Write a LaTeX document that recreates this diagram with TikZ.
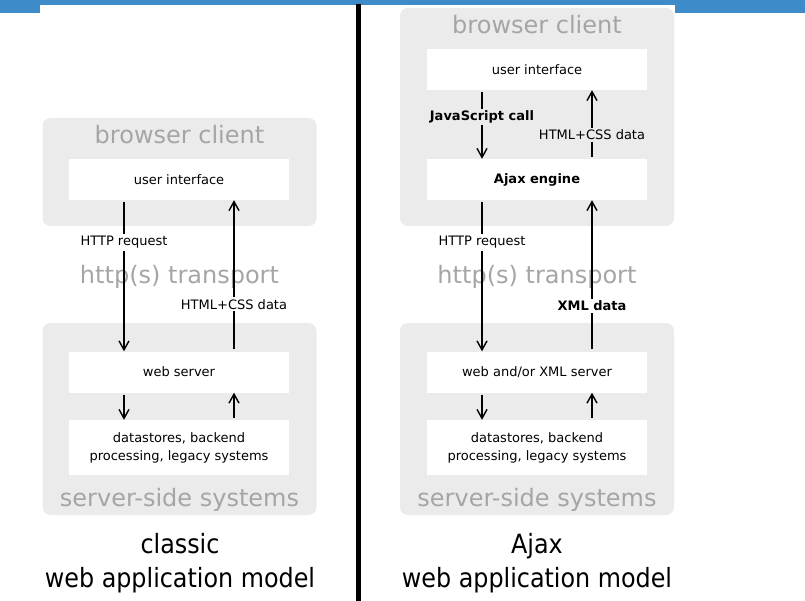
\documentclass[tikz,border=0pt]{standalone}
\usepackage{fontspec}
\setmainfont{DejaVu Sans}
\newfontfamily\capfont{DejaVu Sans Condensed}
\usetikzlibrary{arrows.meta}
\definecolor{barblue}{RGB}{61,139,201}
\definecolor{panelgray}{RGB}{235,235,235}
\definecolor{titlegray}{RGB}{165,165,165}
\tikzset{
  panel/.style={fill=panelgray,rounded corners=8pt,minimum width=274pt,inner sep=0pt},
  whitebox/.style={fill=white,minimum width=220pt,minimum height=41pt,inner sep=0pt,
    align=center,font=\fontsize{13}{18}\selectfont},
  paneltitle/.style={text=titlegray,inner sep=0pt,font=\fontsize{24}{28}\selectfont},
  flowlabel/.style={fill=white,inner sep=2pt,font=\fontsize{13}{15}\selectfont},
  boldlabel/.style={flowlabel,font=\fontsize{13}{15}\selectfont\bfseries},
  flow/.style={line width=1.4pt,shorten <=2pt,-{Straight Barb[length=9pt,width=10pt]}},
  caption/.style={align=center,font=\capfont\fontsize{26.5}{34}\selectfont}
}
\begin{document}
\begin{tikzpicture}[x=1pt,y=-1pt]
\useasboundingbox (0,0) rectangle (805,601);
% bar on top and divider
\fill[barblue] (0,0) rectangle (805,5);%
\fill[barblue] (0,0) rectangle (40,13);%
\fill[barblue] (675,0) rectangle (805,13);%
\fill (356,4) rectangle (361,601);%
% classic model
\node[panel,minimum height=108pt] (bc1) at (179.5,172) {};%
\node[panel,minimum height=192pt] (ss1) at (179.5,419) {};%
\node[paneltitle] (bct1) at (179.5,135) {browser client};%
\node[paneltitle] (sst1) at (179.5,500) {server-side systems};%
\node[paneltitle] (tr1) at (179.5,277) {http(s) transport};%
\node[whitebox] (ui1) at (179,179.5) {user interface};%
\node[whitebox] (ws1) at (179,372) {web server};%
\node[whitebox,minimum height=55pt] (ds1) at (179,447.5) {datastores, backend\\processing, legacy systems};%
\draw[flow] ([xshift=-55pt]ui1.south) -- node[flowlabel,pos=.28]{HTTP request} ([xshift=-55pt]ws1.north);%
\draw[flow] ([xshift=55pt]ws1.north) -- node[flowlabel,pos=.31]{HTML+CSS data} ([xshift=55pt]ui1.south);%
\draw[flow] ([xshift=-55pt]ws1.south) -- ([xshift=-55pt]ds1.north);%
\draw[flow] ([xshift=55pt]ds1.north) -- ([xshift=55pt]ws1.south);%
\node[caption] (cap1) at (180,563) {classic\\web application model};%
% Ajax model
\node[panel,minimum height=218pt] (bc2) at (537,117) {};%
\node[panel,minimum height=192pt] (ss2) at (537,419) {};%
\node[paneltitle] (bct2) at (537,25) {browser client};%
\node[paneltitle] (sst2) at (537,500) {server-side systems};%
\node[paneltitle] (tr2) at (537,277) {http(s) transport};%
\node[whitebox] (ui2) at (537,69.5) {user interface};%
\node[whitebox,font=\fontsize{13}{18}\selectfont\bfseries] (ae2) at (537,179.5) {Ajax engine};%
\node[whitebox] (ws2) at (537,372) {web and/or XML server};%
\node[whitebox,minimum height=55pt] (ds2) at (537,447.5) {datastores, backend\\processing, legacy systems};%
\draw[flow] ([xshift=-55pt]ui2.south) -- node[boldlabel,fill=panelgray,pos=.39]{JavaScript call} ([xshift=-55pt]ae2.north);%
\draw[flow] ([xshift=55pt]ae2.north) -- node[flowlabel,fill=panelgray,pos=.35]{HTML+CSS data} ([xshift=55pt]ui2.south);%
\draw[flow] ([xshift=-55pt]ae2.south) -- node[flowlabel,pos=.28]{HTTP request} ([xshift=-55pt]ws2.north);%
\draw[flow] ([xshift=55pt]ws2.north) -- node[boldlabel,pos=.30]{XML data} ([xshift=55pt]ae2.south);%
\draw[flow] ([xshift=-55pt]ws2.south) -- ([xshift=-55pt]ds2.north);%
\draw[flow] ([xshift=55pt]ds2.north) -- ([xshift=55pt]ws2.south);%
\node[caption] (cap2) at (537,563) {Ajax\\web application model};%
\end{tikzpicture}
\end{document}
